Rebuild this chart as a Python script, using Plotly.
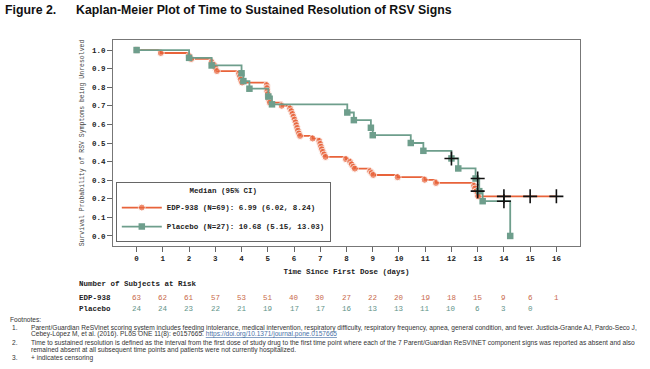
import plotly.graph_objects as go

# ---------------- data ----------------
edp_t = [0, 0.92, 2.0, 2.08, 2.86, 2.95, 3.0, 3.06, 3.9, 3.94, 3.97, 4.02,
         4.96, 4.97, 4.98, 5.0, 5.02, 5.05, 5.08, 5.53,
         5.85, 5.9, 5.94, 5.98, 6.02, 6.06, 6.09, 6.12, 6.15, 6.19, 6.23,
         6.71, 6.96, 7.0, 7.03, 7.06, 7.1, 7.15, 7.2,
         7.98, 8.14, 8.2, 8.26, 8.32, 8.9, 8.96, 9.02,
         9.95, 10.98, 11.41, 12.86, 12.9, 12.95, 13.0, 13.02]
edp_s = [1.0, 0.984, 0.968, 0.952, 0.936, 0.920, 0.904, 0.887, 0.873, 0.857, 0.841, 0.825,
         0.811, 0.795, 0.779, 0.763, 0.747, 0.731, 0.717, 0.700,
         0.686, 0.671, 0.656, 0.641, 0.626, 0.611, 0.596, 0.581, 0.566, 0.551, 0.538,
         0.524, 0.511, 0.495, 0.480, 0.466, 0.452, 0.438, 0.425,
         0.413, 0.398, 0.385, 0.372, 0.362, 0.348, 0.338, 0.328,
         0.316, 0.302, 0.285, 0.270, 0.255, 0.240, 0.226, 0.213]
edp_cens_t = [14, 15, 16]
edp_cens_s = [0.213, 0.213, 0.213]

pbo_t = [0, 2.0, 2.86, 4.0, 4.07, 4.3, 5.02, 5.16, 8.03, 8.28, 8.93, 9.0,
         10.45, 10.93, 12.0, 12.26, 12.92, 13.06, 13.19, 14.24]
pbo_s = [1.0, 0.958, 0.917, 0.875, 0.833, 0.792, 0.750, 0.708, 0.664, 0.623, 0.582, 0.542,
         0.500, 0.458, 0.417, 0.363, 0.309, 0.241, 0.187, 0.0]
pbo_cens_t = [12.0, 13.0, 13.0, 14.0]
pbo_cens_s = [0.417, 0.309, 0.241, 0.187]

days = list(range(0, 17))
edp_risk = [63, 62, 61, 57, 53, 51, 40, 30, 27, 22, 20, 19, 18, 15, 9, 6, 1]
pbo_risk = [24, 24, 23, 22, 21, 19, 17, 17, 16, 13, 13, 11, 10, 6, 3, 0]

edp_name = "EDP-938 (N=69): 6.99 (6.02, 8.24)"
pbo_name = "Placebo (N=27): 10.68 (5.15, 13.03)"

# ---------------- styles ----------------
W, H = 650, 369
L, R, T, B = 113, 70, 40, 123
C_EDP = "#E8633A"
C_PBO = "#6E9E8C"
C_EDP_TXT = "#C8694B"
C_PBO_TXT = "#5F9489"
MONO = "Courier New, Liberation Mono, monospace"
SANS = "Arial, Liberation Sans, sans-serif"
NARROW = "Liberation Sans Narrow, Arial Narrow, Arial, sans-serif"

pw = W - L - R
ph = H - T - B


def px_x(x):
    return (x - L) / pw


def px_y(y):
    return (H - B - y) / ph


fig = go.Figure()

ex = edp_t + [max(edp_cens_t)]
ey = edp_s + [edp_s[-1]]
fig.add_trace(go.Scatter(
    x=ex, y=ey, mode="lines+markers", name=f"<b>{edp_name}</b>",
    line=dict(color=C_EDP, width=1.8, shape="hv"),
    marker=dict(symbol="circle", color=C_EDP, size=[7] * len(edp_t) + [0]),
))
fig.add_trace(go.Scatter(
    x=pbo_t, y=pbo_s, mode="lines+markers", name=f"<b>{pbo_name}</b>",
    line=dict(color=C_PBO, width=1.8, shape="hv"),
    marker=dict(symbol="square", color=C_PBO, size=6.5),
))
fig.add_trace(go.Scatter(
    x=edp_cens_t + pbo_cens_t, y=edp_cens_s + pbo_cens_s, mode="markers",
    showlegend=False,
    marker=dict(symbol="cross-thin", size=10, line=dict(color="#111", width=1.6)),
))

ann = []
title_font = dict(family=NARROW, size=12.3, color="#111")
ann.append(dict(text="<b>Figure 2.</b>", x=px_x(3), y=px_y(10), xref="paper", yref="paper",
                xanchor="left", yanchor="middle", showarrow=False, font=title_font))
ann.append(dict(text="<b>Kaplan-Meier Plot of Time to Sustained Resolution of RSV Signs</b>",
                x=px_x(74), y=px_y(10), xref="paper", yref="paper",
                xanchor="left", yanchor="middle", showarrow=False, font=title_font))

# at-risk table
tab_font = dict(family=MONO, size=7.5, color="#222")
ann.append(dict(text="<b>Number of Subjects at Risk</b>", x=px_x(77), y=px_y(284),
                xref="paper", yref="paper", xanchor="left", yanchor="middle",
                showarrow=False, font=tab_font))
ann.append(dict(text="<b>EDP-938</b>", x=px_x(77), y=px_y(298), xref="paper", yref="paper",
                xanchor="left", yanchor="middle", showarrow=False, font=tab_font))
ann.append(dict(text="<b>Placebo</b>", x=px_x(77), y=px_y(309), xref="paper", yref="paper",
                xanchor="left", yanchor="middle", showarrow=False, font=tab_font))
for d, n in zip(days, edp_risk):
    ann.append(dict(text=str(n), x=d, y=px_y(298), xref="x", yref="paper",
                    xanchor="center", yanchor="middle", showarrow=False,
                    font=dict(family=MONO, size=7.5, color=C_EDP_TXT)))
for d, n in zip(days, pbo_risk):
    ann.append(dict(text=str(n), x=d, y=px_y(309), xref="x", yref="paper",
                    xanchor="center", yanchor="middle", showarrow=False,
                    font=dict(family=MONO, size=7.5, color=C_PBO_TXT)))

# footnotes
fn_font = dict(family=SANS, size=6.6, color="#333")
foot = [
    (8, 319, "Footnotes:"),
    (10, 327.5, "1."),
    (29, 327.5, "Parent/Guardian ReSVinet scoring system includes feeding intolerance, medical intervention, "
                "respiratory difficulty, respiratory frequency, apnea, general condition, and fever. "
                "Justicia-Grande AJ, Pardo-Seco J,"),
    (29, 334, "Cebey-López M, et al. (2016). PLoS ONE 11(8): e0157665. "
              "<span style='color:#4a72a8'><u>https://doi.org/10.1371/journal.pone.0157665</u></span>"),
    (10, 342.5, "2."),
    (29, 342.5, "Time to sustained resolution is defined as the interval from the first dose of study drug "
                "to the first time point where each of the 7 Parent/Guardian ReSVINET component signs was "
                "reported as absent and also"),
    (29, 349.5, "remained absent at all subsequent time points and patients were not currently hospitalized."),
    (10, 357.8, "3."),
    (29, 357.8, "+ indicates censoring"),
]
for x, y, t in foot:
    ann.append(dict(text=t, x=px_x(x), y=px_y(y), xref="paper", yref="paper",
                    xanchor="left", yanchor="middle", showarrow=False, font=fn_font))

fig.update_layout(
    width=W, height=H,
    margin=dict(l=L, r=R, t=T, b=B),
    paper_bgcolor="white", plot_bgcolor="white",
    annotations=ann,
    legend=dict(
        x=0.006, y=0.018, xanchor="left", yanchor="bottom",
        bordercolor="#666", borderwidth=1, bgcolor="white",
        font=dict(family=MONO, size=7.5, color="#222"),
        title=dict(text="<b>Median (95% CI)</b>", side="top center",
                   font=dict(family=MONO, size=7.5, color="#222")),
        itemwidth=40, tracegroupgap=0,
    ),
)
fig.update_xaxes(
    range=[-0.9, 16.9], tickmode="array", tickvals=days, ticktext=[f"<b>{d}</b>" for d in days],
    ticks="outside", ticklen=5, tickcolor="#666", showgrid=False, zeroline=False,
    showline=True, linecolor="#777", linewidth=1, mirror=True,
    tickfont=dict(family=MONO, size=7.5, color="#222"),
    title=dict(text="<b>Time Since First Dose (days)</b>", standoff=6,
               font=dict(family=MONO, size=7.5, color="#222")),
)
yt = [i / 10 for i in range(11)]
fig.update_yaxes(
    range=[-0.054, 1.054], tickmode="array", tickvals=yt, ticktext=[f"<b>{v:.1f}</b>" for v in yt],
    ticks="outside", ticklen=5, tickcolor="#666", showgrid=False, zeroline=False,
    showline=True, linecolor="#777", linewidth=1, mirror=True,
    tickfont=dict(family=MONO, size=7.5, color="#222"),
    title=dict(text="Survival Probability of RSV Symptoms being Unresolved", standoff=6,
               font=dict(family=MONO, size=6.5, color="#444")),
)

fig.write_html("out.html")
